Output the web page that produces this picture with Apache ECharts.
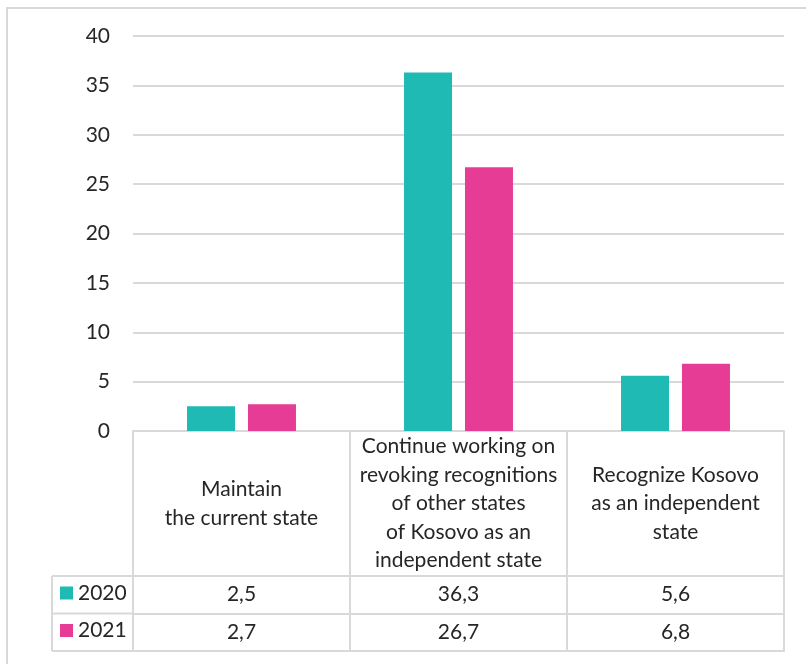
<!DOCTYPE html>
<html>
<head>
<meta charset="utf-8">
<script src="https://cdn.jsdelivr.net/npm/echarts@6/dist/echarts.min.js"></script>
<style>
html,body{margin:0;padding:0;background:#fff;}
#chart{width:806px;height:664px;}
</style>
</head>
<body>
<div id="chart"></div>
<script>
const categories = [
  "Maintain\nthe current state",
  "Continue working on\nrevoking recognitions\nof other states\nof Kosovo as an\nindependent state",
  "Recognize Kosovo\nas an independent\nstate"
];
const seriesNames = ["2020", "2021"];
const values2020 = [2.5, 36.3, 5.6];
const values2021 = [2.7, 26.7, 6.8];
const yTicks = [0, 5, 10, 15, 20, 25, 30, 35, 40];

const colors = ["#20BAB4", "#E63C96"];
const lineColor = "#D9D9D9";
const textColor = "#262626";
const FONT = "Lato";
const FS = 21;
const fmt = v => String(v).replace(".", ",");

const chart = echarts.init(document.getElementById("chart"), null, {renderer: "canvas"});

const gridLeft = 133, gridRight = 22, gridTop = 36, gridBottom = 233;
const headerH = 145, rowH = 37.5;

function valueAxisRow(idx, vals) {
  return {
    type: "category",
    gridIndex: 0,
    position: "bottom",
    offset: headerH + rowH * idx,
    data: vals.map(fmt),
    axisLine: {show: true, lineStyle: {color: lineColor, width: 2}},
    axisTick: {show: true, length: rowH, lineStyle: {color: lineColor, width: 2}},
    axisLabel: {show: true, interval: 0, margin: 8, fontFamily: FONT, fontSize: FS, color: textColor, lineHeight: 21}
  };
}

const option = {
  animation: false,
  textStyle: {fontFamily: FONT},
  grid: {left: gridLeft, right: gridRight, top: gridTop, bottom: gridBottom, containLabel: false, outerBoundsMode: "none"},
  legend: {
    show: true,
    data: seriesNames,
    orient: "vertical",
    left: 55,
    top: 577.5,
    itemGap: 16.5,
    itemWidth: 13,
    itemHeight: 13,
    icon: "rect",
    textStyle: {fontFamily: FONT, fontSize: FS, color: textColor, lineHeight: 21},
    selectedMode: false
  },
  xAxis: [
    {
      type: "category",
      data: categories,
      axisLine: {show: true, lineStyle: {color: lineColor, width: 2}},
      axisTick: {show: true, length: headerH, lineStyle: {color: lineColor, width: 2}},
      axisLabel: {
        show: true, interval: 0, fontFamily: FONT, fontSize: FS, color: textColor,
        lineHeight: 28.5, align: "center", verticalAlign: "middle",
        margin: headerH / 2
      }
    },
    valueAxisRow(0, values2020),
    valueAxisRow(1, values2021),
    {
      type: "category",
      position: "bottom",
      offset: headerH + rowH * 2,
      data: categories,
      axisLine: {show: true, lineStyle: {color: lineColor, width: 2}},
      axisTick: {show: false},
      axisLabel: {show: false}
    }
  ],
  yAxis: {
    type: "value",
    min: 0,
    max: 40,
    interval: 5,
    axisLine: {show: false},
    axisTick: {show: false},
    splitLine: {show: true, lineStyle: {color: lineColor, width: 2}},
    axisLabel: {
      fontFamily: FONT, fontSize: FS, color: textColor, margin: 23,
      formatter: v => yTicks.includes(v) ? String(v) : ""
    }
  },
  series: [
    {name: seriesNames[0], type: "bar", data: values2020, barWidth: 48, barGap: "27%",
     itemStyle: {color: colors[0]}, xAxisIndex: 0},
    {name: seriesNames[1], type: "bar", data: values2021, barWidth: 48, barGap: "27%",
     itemStyle: {color: colors[1]}, xAxisIndex: 0}
  ],
  graphic: []
};

chart.setOption(option);

// table decorations: legend column + outer frame
const plotBottom = 664 - gridBottom;
const tableLeft = 52;
const rowsY = [plotBottom + headerH, plotBottom + headerH + rowH, plotBottom + headerH + rowH * 2];
const g = [];
rowsY.forEach(y => {
  g.push({type: "line", shape: {x1: tableLeft, y1: y, x2: gridLeft, y2: y}, style: {stroke: lineColor, lineWidth: 2}});
});
g.push({type: "line", shape: {x1: tableLeft, y1: rowsY[0], x2: tableLeft, y2: rowsY[2]}, style: {stroke: lineColor, lineWidth: 2}});
g.push({type: "rect", shape: {x: 7, y: 8, width: 820, height: 680}, style: {fill: null, stroke: lineColor, lineWidth: 2}, silent: true});
chart.setOption({graphic: g});
</script>
</body>
</html>
